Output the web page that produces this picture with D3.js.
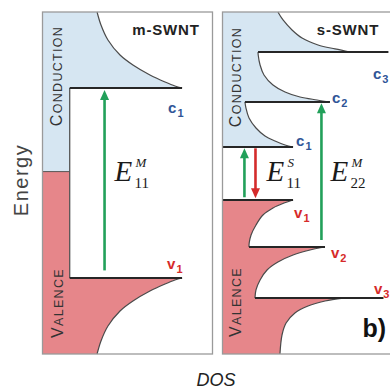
<!DOCTYPE html>
<html>
<head>
<meta charset="utf-8">
<script src="https://cdn.jsdelivr.net/npm/d3@7"></script>
<style>
  html, body { margin: 0; padding: 0; background: #fff; }
  svg { display: block; }
</style>
</head>
<body>
<svg id="chart" width="390" height="390"></svg>
<script>
// Energy axis (arbitrary units, 0 near mid-gap) and DOS axis (arbitrary units)
const energyDomain = [-1.8, 1.8];
const dosDomain = [0, 10];

// Metallic tube: first van Hove pair, flat DOS between them, Fermi level
const mLevels = [1.0, -1.0];
const mLevelNames = ["c", "v"];
const mFlatDOS = 1.6;
const mFermi = 0.12;
// Band edges as [energy, DOS], starting at the singularity
const mCondEdge = [[1.0, 8.21], [1.021, 7.79], [1.063, 7.21], [1.137, 6.32], [1.242, 5.32], [1.347, 4.56], [1.505, 3.85], [1.663, 3.44], [1.8, 3.21]];
const mValEdge = [[-1.0, 8.21], [-1.021, 7.79], [-1.063, 7.21], [-1.137, 6.32], [-1.242, 5.32], [-1.347, 4.56], [-1.505, 3.85], [-1.663, 3.44], [-1.8, 3.21]];

// Semiconducting tube: three van Hove pairs
const sCondLevels = [0.379, 0.853, 1.379];
const sValLevels = [-0.179, -0.674, -1.211];
const sCondLineStart = [0, 1.32, 2.09];
const sCondLineEnd = [4.15, 6.32, 9.76];
const sValLineStart = [0, 1.56, 1.91];
const sValLineEnd = [4.15, 6.03, 9.47];
const sCondEdges = [
  [[0.379, 4.15], [0.4, 3.68], [0.442, 3.09], [0.495, 2.5], [0.579, 1.97], [0.684, 1.56], [0.789, 1.38], [0.853, 1.32]],
  [[0.853, 6.32], [0.874, 5.56], [0.905, 4.56], [0.958, 3.68], [1.032, 2.97], [1.137, 2.44], [1.242, 2.21], [1.347, 2.1], [1.379, 2.09]],
  [[1.379, 7.5], [1.411, 6.62], [1.453, 5.62], [1.526, 4.68], [1.611, 4.09], [1.716, 3.56], [1.8, 3.26]]
];
const sValEdges = [
  [[-0.179, 4.15], [-0.211, 3.62], [-0.263, 2.97], [-0.337, 2.38], [-0.442, 1.97], [-0.547, 1.68], [-0.632, 1.57], [-0.674, 1.56]],
  [[-0.674, 6.03], [-0.705, 5.15], [-0.758, 4.15], [-0.832, 3.26], [-0.916, 2.62], [-1.021, 2.21], [-1.126, 1.97], [-1.211, 1.91]],
  [[-1.211, 7.09], [-1.242, 6.03], [-1.295, 5.03], [-1.368, 4.26], [-1.474, 3.74], [-1.6, 3.5], [-1.8, 3.38]]
];

// Optical transitions: [DOS position, start energy, end energy]
const mTransitions = [[3.65, -0.92, 0.98]];
const mTransitionKinds = ["absorb"];
const sTransitions = [[1.29, -0.15, 0.365], [1.94, 0.365, -0.16], [5.82, -0.6, 0.84]];
const sTransitionKinds = ["absorb", "emit", "absorb"];

const svg = d3.select("#chart");
const y = d3.scaleLinear().domain(energyDomain).range([354, 12]);
const xM = d3.scaleLinear().domain(dosDomain).range([42.5, 212.5]);
const xS = d3.scaleLinear().domain(dosDomain).range([222.5, 392.5]);

const COND_FILL = "#d6e6f2";
const VAL_FILL = "#e6868a";
const EDGE = "#4a4a4a";
const LEVEL = "#262626";
const GREEN = "#22a05a";
const RED = "#d42b2b";
const C_LABEL = "#2f5597";
const V_LABEL = "#d62a2a";

const edgeGen = x => d3.line().x(d => x(d[1])).y(d => y(d[0])).curve(d3.curveCatmullRom.alpha(0.5));
const segGen = x => d3.line().x(d => x(d[1])).y(d => y(d[0]));
const joinPaths = parts => parts.map((p, i) => i ? p.replace(/^M/, "L") : p).join("") + "Z";
const rev = a => a.slice().reverse();

// ---------- m-SWNT panel ----------
const gM = svg.append("g");
const eTop = energyDomain[1], eBottom = energyDomain[0];

const mBlue = joinPaths([
  segGen(xM)([[eTop, 0], [eTop, mCondEdge[mCondEdge.length - 1][1]]]),
  edgeGen(xM)(rev(mCondEdge)),
  segGen(xM)([[mLevels[0], mCondEdge[0][1]], [mLevels[0], mFlatDOS], [mFermi, mFlatDOS], [mFermi, 0]])
]);
const mRed = joinPaths([
  segGen(xM)([[mFermi, 0], [mFermi, mFlatDOS], [mLevels[1], mFlatDOS], [mLevels[1], mValEdge[0][1]]]),
  edgeGen(xM)(mValEdge),
  segGen(xM)([[eBottom, mValEdge[mValEdge.length - 1][1]], [eBottom, 0]])
]);
gM.append("path").attr("d", mBlue).attr("fill", COND_FILL);
gM.append("path").attr("d", mRed).attr("fill", VAL_FILL);
gM.append("path").attr("d", edgeGen(xM)(mCondEdge)).attr("fill", "none").attr("stroke", EDGE).attr("stroke-width", 1.2);
gM.append("path").attr("d", edgeGen(xM)(mValEdge)).attr("fill", "none").attr("stroke", EDGE).attr("stroke-width", 1.2);
// flat metallic DOS and Fermi boundary
gM.append("path").attr("d", segGen(xM)([[mLevels[0], mFlatDOS], [mLevels[1], mFlatDOS]]))
  .attr("fill", "none").attr("stroke", "#555").attr("stroke-width", 1.3);
gM.append("path").attr("d", segGen(xM)([[mFermi, 0], [mFermi, mFlatDOS]]))
  .attr("fill", "none").attr("stroke", "#555").attr("stroke-width", 1);
// level lines
mLevels.forEach((e, i) => {
  const tip = (i === 0 ? mCondEdge : mValEdge)[0][1];
  gM.append("path").attr("d", segGen(xM)([[e, mFlatDOS], [e, tip]]))
    .attr("fill", "none").attr("stroke", LEVEL).attr("stroke-width", 2);
});
gM.append("rect").attr("x", xM(0)).attr("y", y(eTop)).attr("width", xM(10) - xM(0)).attr("height", y(eBottom) - y(eTop))
  .attr("fill", "none").attr("stroke", "#9a9a9a").attr("stroke-width", 1.3);

// ---------- s-SWNT panel ----------
const gS = svg.append("g");
const nC = sCondEdges.length;
const blueParts = [segGen(xS)([[eTop, 0], [eTop, sCondEdges[nC - 1][sCondEdges[nC - 1].length - 1][1]]])];
for (let i = nC - 1; i >= 0; i--) {
  blueParts.push(edgeGen(xS)(rev(sCondEdges[i])));
  blueParts.push(segGen(xS)([[sCondLevels[i], sCondEdges[i][0][1]], [sCondLevels[i], sCondLineStart[i]]]));
}
const redParts = [];
sValEdges.forEach((edge, i) => {
  redParts.push(segGen(xS)([[sValLevels[i], sValLineStart[i]], [sValLevels[i], edge[0][1]]]));
  redParts.push(edgeGen(xS)(edge));
});
const lastV = sValEdges[sValEdges.length - 1];
redParts.push(segGen(xS)([[eBottom, lastV[lastV.length - 1][1]], [eBottom, 0]]));

gS.append("path").attr("d", joinPaths(blueParts)).attr("fill", COND_FILL);
gS.append("path").attr("d", joinPaths(redParts)).attr("fill", VAL_FILL);
sCondEdges.concat(sValEdges).forEach(edge => {
  gS.append("path").attr("d", edgeGen(xS)(edge)).attr("fill", "none").attr("stroke", EDGE).attr("stroke-width", 1.2);
});
sCondLevels.forEach((e, i) => {
  gS.append("path").attr("d", segGen(xS)([[e, sCondLineStart[i]], [e, sCondLineEnd[i]]]))
    .attr("fill", "none").attr("stroke", LEVEL).attr("stroke-width", 2);
});
sValLevels.forEach((e, i) => {
  gS.append("path").attr("d", segGen(xS)([[e, sValLineStart[i]], [e, sValLineEnd[i]]]))
    .attr("fill", "none").attr("stroke", LEVEL).attr("stroke-width", 2);
});
gS.append("rect").attr("x", xS(0)).attr("y", y(eTop)).attr("width", xS(10) - xS(0)).attr("height", y(eBottom) - y(eTop))
  .attr("fill", "none").attr("stroke", "#9a9a9a").attr("stroke-width", 1.3);

// ---------- transitions ----------
function arrow(g, x, t, kind) {
  const px = x(t[0]), y0 = y(t[1]), y1 = y(t[2]);
  const dir = Math.sign(y1 - y0);
  const color = kind === "emit" ? RED : GREEN;
  const headLen = 10, headW = 4.5;
  g.append("line").attr("x1", px).attr("x2", px).attr("y1", y0).attr("y2", y1 - dir * headLen * 0.7)
    .attr("stroke", color).attr("stroke-width", 2.6);
  g.append("path")
    .attr("d", `M${px - headW},${y1 - dir * headLen}L${px + headW},${y1 - dir * headLen}L${px},${y1}Z`)
    .attr("fill", color);
}
mTransitions.forEach((t, i) => arrow(gM, xM, t, mTransitionKinds[i]));
sTransitions.forEach((t, i) => arrow(gS, xS, t, sTransitionKinds[i]));

// ---------- text ----------
const SANS = "'Liberation Sans', Arial, sans-serif";
const SERIF = "'Liberation Serif', 'Times New Roman', serif";

function vertLabel(cx, cy, big, rest) {
  const t = svg.append("text").attr("transform", `translate(${cx},${cy}) rotate(-90)`)
    .attr("text-anchor", "middle").attr("font-family", SANS).attr("fill", "#333")
    .attr("letter-spacing", "1.3px");
  t.append("tspan").attr("font-size", 16).text(big);
  t.append("tspan").attr("font-size", 12.5).text(rest);
}
vertLabel(62, 76, "C", "ONDUCTION");
vertLabel(62.5, 303, "V", "ALENCE");
vertLabel(241, 77, "C", "ONDUCTION");
vertLabel(241, 302, "V", "ALENCE");

function title(cx, txt) {
  svg.append("text").attr("x", cx).attr("y", 35).attr("text-anchor", "middle")
    .attr("font-family", SANS).attr("font-weight", "bold").attr("font-size", 15)
    .attr("letter-spacing", "0.8px").attr("fill", "#222").text(txt);
}
title(166, "m-SWNT");
title(348, "s-SWNT");

function levelLabel(px, py, letter, idx, color) {
  const t = svg.append("text").attr("x", px).attr("y", py).attr("font-family", SANS)
    .attr("font-weight", "bold").attr("fill", color);
  t.append("tspan").attr("font-size", 15).text(letter);
  t.append("tspan").attr("font-size", 11).attr("dy", 4).attr("dx", 1).text(idx);
}
levelLabel(xM(mCondEdge[0][1]) - 14, y(mLevels[0]) + 25, mLevelNames[0], "1", C_LABEL);
levelLabel(xM(mValEdge[0][1]) - 15, y(mLevels[1]) - 9, mLevelNames[1], "1", V_LABEL);
sCondLevels.forEach((e, i) => {
  const offs = [[3, -1], [2, 1], [23, 27]][i];
  levelLabel(xS(sCondEdges[i][0][1]) + offs[0], y(e) + offs[1], "c", String(i + 1), C_LABEL);
});
sValLevels.forEach((e, i) => {
  const offs = [[1, 18], [6, 11], [31, -4]][i];
  levelLabel(xS(sValEdges[i][0][1]) + offs[0], y(e) + offs[1], "v", String(i + 1), V_LABEL);
});

function eLabel(px, sup, sub) {
  svg.append("text").attr("x", px).attr("y", 181).attr("font-family", SERIF).attr("font-style", "italic")
    .attr("font-size", 29).attr("fill", "#1a1a1a").text("E");
  svg.append("text").attr("x", px + 21).attr("y", 167).attr("font-family", SERIF).attr("font-style", "italic")
    .attr("font-size", 13).attr("fill", "#1a1a1a").text(sup);
  svg.append("text").attr("x", px + 20).attr("y", 188).attr("font-family", SERIF)
    .attr("font-size", 15).attr("fill", "#1a1a1a").text(sub);
}
eLabel(xM(mTransitions[0][0]) + 10, "M", "11");
eLabel(xS(sTransitions[1][0]) + 11, "S", "11");
eLabel(xS(sTransitions[2][0]) + 9, "M", "22");

svg.append("text").attr("transform", "translate(28,180) rotate(-90)").attr("text-anchor", "middle")
  .attr("font-family", SANS).attr("font-size", 20).attr("letter-spacing", "1.5px").attr("fill", "#444").text("Energy");
svg.append("text").attr("x", 216).attr("y", 386).attr("text-anchor", "middle")
  .attr("font-family", SANS).attr("font-style", "italic").attr("font-size", 18).attr("fill", "#222").text("DOS");
svg.append("text").attr("x", 386).attr("y", 337).attr("text-anchor", "end")
  .attr("font-family", SANS).attr("font-weight", "bold").attr("font-size", 25).attr("fill", "#111").text("b)");
</script>
</body>
</html>
